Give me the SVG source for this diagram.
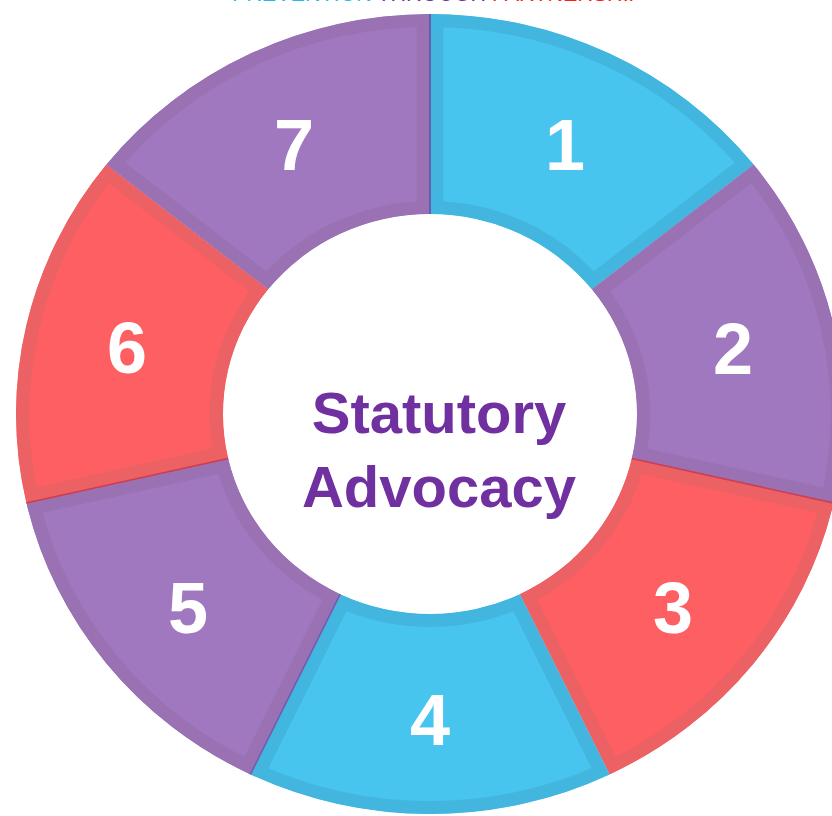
<svg xmlns="http://www.w3.org/2000/svg" xmlns:xlink="http://www.w3.org/1999/xlink" width="832" height="816" viewBox="0 0 832 816">
  <style>
    .blue .fill { fill: #47c5ef; stroke: #43b6df; }
    .purple .fill { fill: #a078c0; stroke: #9a72b4; }
    .red .fill { fill: #fd5f62; stroke: #ec6163; }
    .fill { stroke-width: 26; stroke-linejoin: miter; }
    .num { font-family: "Liberation Sans", Arial, sans-serif; font-weight: bold; font-size: 72px; fill: #ffffff; text-anchor: middle; }
    .title { font-family: "Liberation Sans", Arial, sans-serif; font-weight: bold; font-size: 58px; fill: #7030a0; text-anchor: middle; }
    .banner { font-family: "Liberation Sans", Arial, sans-serif; font-size: 21.5px; }
    .seam { stroke-width: 1.6; fill: none; }
  </style>
  <defs>
    <!-- ring sectors, outer radius 400, inner radius 200, seven equal parts clockwise from top -->
    <path id="p1" d="M0,-400 A400,400 0 0 1 312.73,-249.40 L156.37,-124.70 A200,200 0 0 0 0,-200 Z"/>
    <path id="p2" d="M312.73,-249.40 A400,400 0 0 1 389.97,89.01 L194.99,44.50 A200,200 0 0 0 156.37,-124.70 Z"/>
    <path id="p3" d="M389.97,89.01 A400,400 0 0 1 173.55,360.39 L86.78,180.19 A200,200 0 0 0 194.99,44.50 Z"/>
    <path id="p4" d="M173.55,360.39 A400,400 0 0 1 -173.55,360.39 L-86.78,180.19 A200,200 0 0 0 86.78,180.19 Z"/>
    <path id="p5" d="M-173.55,360.39 A400,400 0 0 1 -389.97,89.01 L-194.99,44.50 A200,200 0 0 0 -86.78,180.19 Z"/>
    <path id="p6" d="M-389.97,89.01 A400,400 0 0 1 -312.73,-249.40 L-156.37,-124.70 A200,200 0 0 0 -194.99,44.50 Z"/>
    <path id="p7" d="M-312.73,-249.40 A400,400 0 0 1 0,-400 L0,-200 A200,200 0 0 0 -156.37,-124.70 Z"/>
    <clipPath id="c1"><use xlink:href="#p1"/></clipPath>
    <clipPath id="c2"><use xlink:href="#p2"/></clipPath>
    <clipPath id="c3"><use xlink:href="#p3"/></clipPath>
    <clipPath id="c4"><use xlink:href="#p4"/></clipPath>
    <clipPath id="c5"><use xlink:href="#p5"/></clipPath>
    <clipPath id="c6"><use xlink:href="#p6"/></clipPath>
    <clipPath id="c7"><use xlink:href="#p7"/></clipPath>
  </defs>

  <rect width="832" height="816" fill="#ffffff"/>

  <!-- heading, almost entirely above the top edge -->
  <text class="banner" x="232" y="1.3"><tspan fill="#29b5e8">PREVENTION </tspan><tspan fill="#7030a0">THROUGH </tspan><tspan fill="#ff1a1a">PARTNERSHIP</tspan></text>

  <g id="segment-1" class="blue">
    <g transform="translate(430,414) scale(1.035,1)"><use class="fill" xlink:href="#p1" clip-path="url(#c1)"/></g>
    <text class="num" x="565" y="170">1</text>
  </g>
  <g id="segment-2" class="purple">
    <g transform="translate(430,414) scale(1.035,1)"><use class="fill" xlink:href="#p2" clip-path="url(#c2)"/></g>
    <text class="num" x="733" y="374">2</text>
  </g>
  <g id="segment-3" class="red">
    <g transform="translate(430,414) scale(1.035,1)"><use class="fill" xlink:href="#p3" clip-path="url(#c3)"/></g>
    <text class="num" x="673" y="633">3</text>
  </g>
  <g id="segment-4" class="blue">
    <g transform="translate(430,414) scale(1.035,1)"><use class="fill" xlink:href="#p4" clip-path="url(#c4)"/></g>
    <text class="num" x="430" y="745">4</text>
  </g>
  <g id="segment-5" class="purple">
    <g transform="translate(430,414) scale(1.035,1)"><use class="fill" xlink:href="#p5" clip-path="url(#c5)"/></g>
    <text class="num" x="188" y="633">5</text>
  </g>
  <g id="segment-6" class="red">
    <g transform="translate(430,414) scale(1.035,1)"><use class="fill" xlink:href="#p6" clip-path="url(#c6)"/></g>
    <text class="num" x="127" y="373">6</text>
  </g>
  <g id="segment-7" class="purple">
    <g transform="translate(430,414) scale(1.035,1)"><use class="fill" xlink:href="#p7" clip-path="url(#c7)"/></g>
    <text class="num" x="294" y="170">7</text>
  </g>

  <!-- thin darker seams where some sectors meet -->
  <g id="seams" transform="translate(430,414) scale(1.035,1)">
    <line class="seam" x1="0" y1="-400" x2="0" y2="-200" stroke="#5e56a6"/>
    <line class="seam" x1="389.97" y1="89.01" x2="194.99" y2="44.50" stroke="#cc3e55"/>
    <line class="seam" x1="-173.55" y1="360.39" x2="-86.78" y2="180.19" stroke="#6f5fae"/>
    <line class="seam" x1="-389.97" y1="89.01" x2="-194.99" y2="44.50" stroke="#cf3c4e"/>
  </g>

  <g id="center">
    <text class="title" x="439" y="433">Statutory</text>
    <text class="title" x="439" y="507">Advocacy</text>
  </g>
</svg>
